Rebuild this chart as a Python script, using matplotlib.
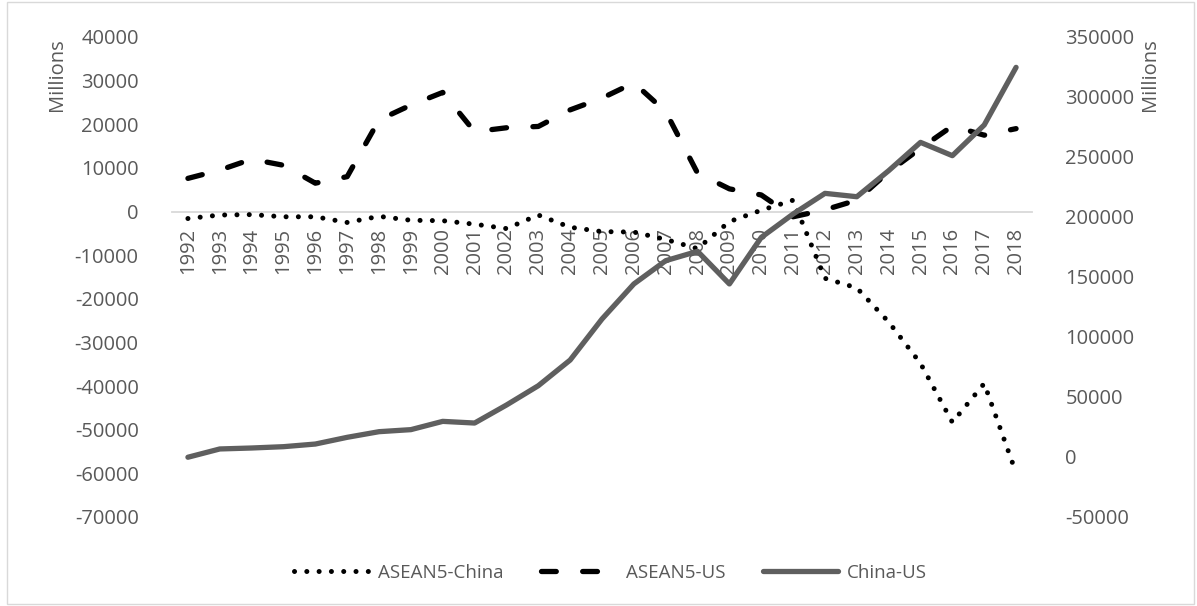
import matplotlib
matplotlib.use("Agg")
import matplotlib.pyplot as plt
from matplotlib.patches import Rectangle

years = [str(y) for y in range(1992, 2019)]

asean_china = [-1600, -800, -700, -1200, -1200, -2500, -1100, -2000, -2100, -2900,
               -3900, -800, -3600, -4600, -4700, -6400, -8500, -2300, 300, 2600,
               -15300, -17500, -25300, -34800, -48300, -39400, -59900]
asean_us = [7600, 9500, 12000, 10600, 6500, 8000, 21000, 24400, 27300, 18300,
            19200, 19500, 23300, 26000, 29500, 22900, 8800, 5200, 3800, -1200,
            400, 2600, 9100, 14500, 19600, 17500, 19000]
china_us = [-200, 6700, 7500, 8600, 10800, 16400, 21100, 22800, 29700, 28300,
            43300, 59400, 80800, 115000, 144200, 163600, 171400, 144200, 183000, 202500,
            219700, 216900, 238600, 262200, 251100, 276700, 324700]

left_ticks = list(range(-70000, 40001, 10000))
right_ticks = list(range(-50000, 350001, 50000))

plt.rcParams['font.family'] = ['Open Sans', 'DejaVu Sans']
plt.rcParams['axes.unicode_minus'] = False
TXT = '#595959'
FS = 14.5

fig = plt.figure(figsize=(11.97, 6.06), dpi=100)
ax = fig.add_axes([172 / 1197, 1 - 517 / 606, 860 / 1197, 480 / 606])
ax2 = ax.twinx()

x = list(range(len(years)))
l1, = ax.plot(x, asean_china, color='black', lw=3.6, dashes=(0.01, 2.45),
              dash_capstyle='round', solid_capstyle='round')
l2, = ax.plot(x, asean_us, color='black', lw=3.8, dashes=(2.8, 5.0),
              dash_capstyle='round')
l3, = ax2.plot(x, china_us, color='#5f5f5f', lw=3.8, solid_capstyle='round',
               solid_joinstyle='round')

ax.set_xlim(-0.5, len(years) - 0.5)
ax.set_ylim(-70000, 40000)
ax2.set_ylim(-50000, 350000)
ax.set_yticks(left_ticks)
ax2.set_yticks(right_ticks)

for a in (ax, ax2):
    for s in a.spines.values():
        s.set_visible(False)
    a.tick_params(axis='y', length=0, labelsize=FS, labelcolor=TXT)
ax.tick_params(axis='y', pad=24)
ax2.tick_params(axis='y', pad=24)

# horizontal category axis sits on the zero line of the left axis
ax.spines['bottom'].set_visible(True)
ax.spines['bottom'].set_position(('data', 0))
ax.spines['bottom'].set_color('#d9d9d9')
ax.spines['bottom'].set_linewidth(1.3)
ax.spines['bottom'].set_zorder(0)
ax.set_xticks(x)
ax.set_xticklabels(years, rotation=90)
ax.tick_params(axis='x', length=0, pad=12, labelsize=FS, labelcolor=TXT)

fig.text(57 / 1197, 1 - 75 / 606, 'Millions', rotation=90, ha='center', va='center',
         fontsize=FS, color=TXT)
fig.text(1150 / 1197, 1 - 75 / 606, 'Millions', rotation=90, ha='center', va='center',
         fontsize=FS, color=TXT)

fig.legend([l1, l2, l3], ['ASEAN5-China', 'ASEAN5-US', 'China-US'],
           loc='center', bbox_to_anchor=(0.51, 1 - 573 / 606), ncol=3, frameon=False,
           fontsize=13.5, labelcolor=TXT, handlelength=4.0, handletextpad=0.5,
           columnspacing=2.0)

fig.patches.append(Rectangle((7 / 1197, 0.003), 1 - 10 / 1197, 0.993,
                             transform=fig.transFigure, fill=False,
                             edgecolor='#d9d9d9', lw=1))

fig.savefig('out.png', dpi=100)
